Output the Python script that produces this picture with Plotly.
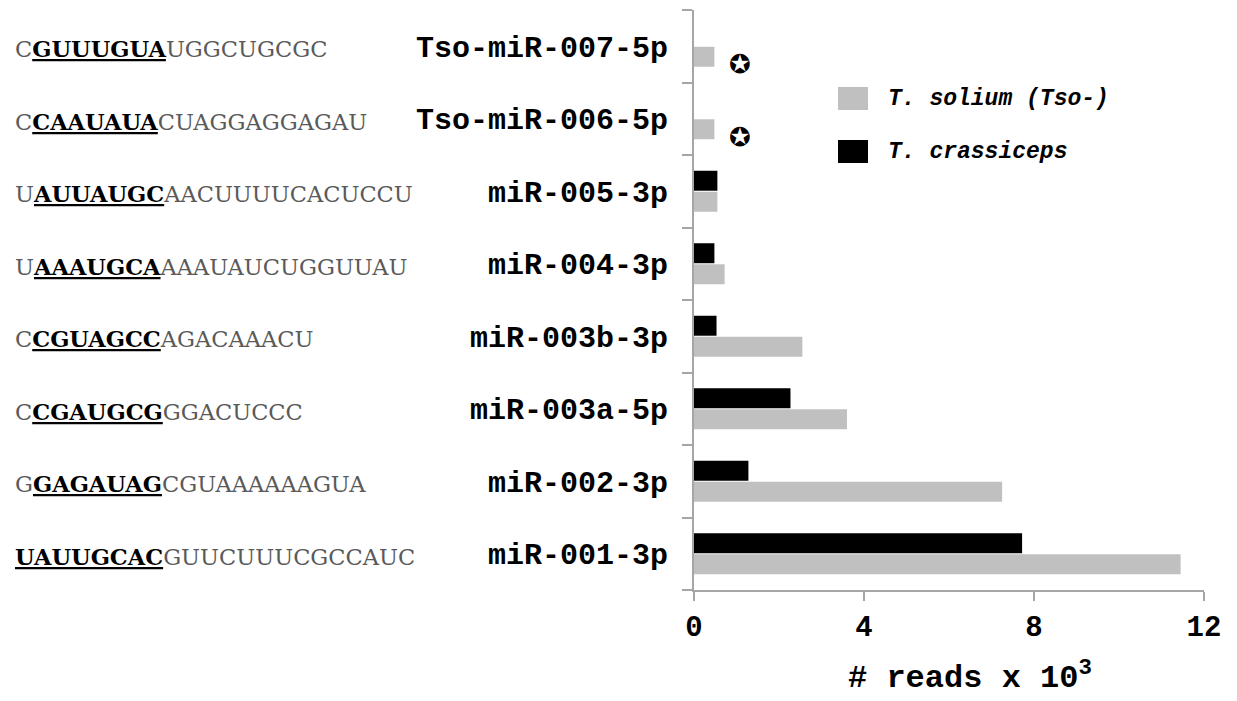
import plotly.graph_objects as go

# ---- data (bottom to top) ----
mirnas = ["miR-001-3p", "miR-002-3p", "miR-003a-5p", "miR-003b-3p",
          "miR-004-3p", "miR-005-3p", "Tso-miR-006-5p", "Tso-miR-007-5p"]
seq_prefix = ["", "G", "C", "C", "U", "U", "C", "C"]
seq_seed = ["UAUUGCAC", "GAGAUAG", "CGAUGCG", "CGUAGCC",
            "AAAUGCA", "AUUAUGC", "CAAUAUA", "GUUUGUA"]
seq_suffix = ["GUUCUUUCGCCAUC", "CGUAAAAAAGUA", "GGACUCCC", "AGACAAACU",
              "AAAUAUCUGGUUAU", "AACUUUUCACUCCU", "CUAGGAGGAGAU", "UGGCUGCGC"]
solium = [11.45, 7.25, 3.6, 2.55, 0.72, 0.55, 0.48, 0.48]
crassiceps = [7.72, 1.28, 2.27, 0.53, 0.48, 0.55, None, None]
starred = ["Tso-miR-006-5p", "Tso-miR-007-5p"]
solium_name = "<i><b>T. solium (Tso-)</b></i>"
crassiceps_name = "<i><b>T. crassiceps</b></i>"
x_ticks = [0, 4, 8, 12]
x_title = "<b># reads x 10<sup>3</sup></b>"

GRAY = "#c0c0c0"
AXIS = "#a6a6a6"
MONO = "Liberation Mono, Courier New, monospace"

# the page body has an 8px margin; compensate so the plot lands where intended
OFF = 8
PL, PT, PW, PH = 694, 10, 510, 580   # plot area in window pixels

fig = go.Figure()
fig.add_trace(go.Bar(y=mirnas, x=solium, orientation="h", name="T. solium",
                     marker=dict(color=GRAY, line=dict(width=0)), showlegend=False))
fig.add_trace(go.Bar(y=mirnas, x=crassiceps, orientation="h", name="T. crassiceps",
                     marker=dict(color="black", line=dict(width=0)), showlegend=False))

# sequences on the left
for m, p, s, t in zip(mirnas, seq_prefix, seq_seed, seq_suffix):
    txt = (f'<span style="color:#5a5a5a">{p}</span>'
           f'<span style="color:#000000"><b><u>{s}</u></b></span>'
           f'<span style="color:#5a5a5a">{t}</span>')
    fig.add_annotation(x=(13 - PL) / PW, xref="paper", y=m, yref="y",
                       text=txt, showarrow=False, xanchor="left", yanchor="middle",
                       yshift=-3,
                       font=dict(family="DejaVu Serif", size=22.5, color="#5a5a5a"))

# stars
for m in starred:
    v = solium[mirnas.index(m)]
    fig.add_annotation(x=v + 0.6, y=m, yref="y", text="✪", showarrow=False,
                       yshift=-18, font=dict(family="DejaVu Sans", size=26, color="black"))

# manual legend
for i, (nm, col) in enumerate([(solium_name, GRAY), (crassiceps_name, "black")]):
    y0 = 87 + i * 53
    fig.add_shape(type="rect", xref="paper", yref="paper",
                  x0=(838 - PL) / PW, x1=(868 - PL) / PW,
                  y0=1 - (y0 + 23 - PT) / PH, y1=1 - (y0 - PT) / PH,
                  fillcolor=col, line=dict(width=0))
    fig.add_annotation(xref="paper", yref="paper", x=(886 - PL) / PW,
                       y=1 - (y0 + 12 - PT) / PH, text=nm, showarrow=False,
                       xanchor="left", yanchor="middle",
                       font=dict(family=MONO, size=23, color="black"))

# x-axis title (offset to the right of the plot centre, as in the reference)
fig.add_annotation(xref="paper", yref="paper", x=(970 - PL) / PW,
                   y=1 - (676 - PT) / PH, text=x_title, showarrow=False,
                   xanchor="center", yanchor="middle",
                   font=dict(family=MONO, size=32, color="black"))

fig.update_layout(
    width=1237 - OFF, height=701 - OFF,
    margin=dict(l=PL - OFF, r=1237 - PL - PW, t=PT - OFF, b=701 - PT - PH),
    paper_bgcolor="white", plot_bgcolor="white",
    barmode="group", bargap=0.42, bargroupgap=0.05,
    showlegend=False,
)
fig.update_xaxes(range=[0, 12], tickvals=x_ticks, ticks="outside", ticklen=9,
                 tickcolor=AXIS, tickwidth=2, showline=True, linecolor=AXIS, linewidth=2,
                 showgrid=False, zeroline=False,
                 tickfont=dict(family=MONO, size=29, color="black", weight="bold"))
fig.update_yaxes(categoryorder="array", categoryarray=mirnas,
                 tickson="boundaries", ticks="outside", ticklen=10,
                 tickcolor=AXIS, tickwidth=2, showline=True, linecolor=AXIS, linewidth=2,
                 showgrid=False, zeroline=False, ticklabelstandoff=18,
                 tickfont=dict(family=MONO, size=30, color="black", weight="bold"))

fig.write_html("out.html")
